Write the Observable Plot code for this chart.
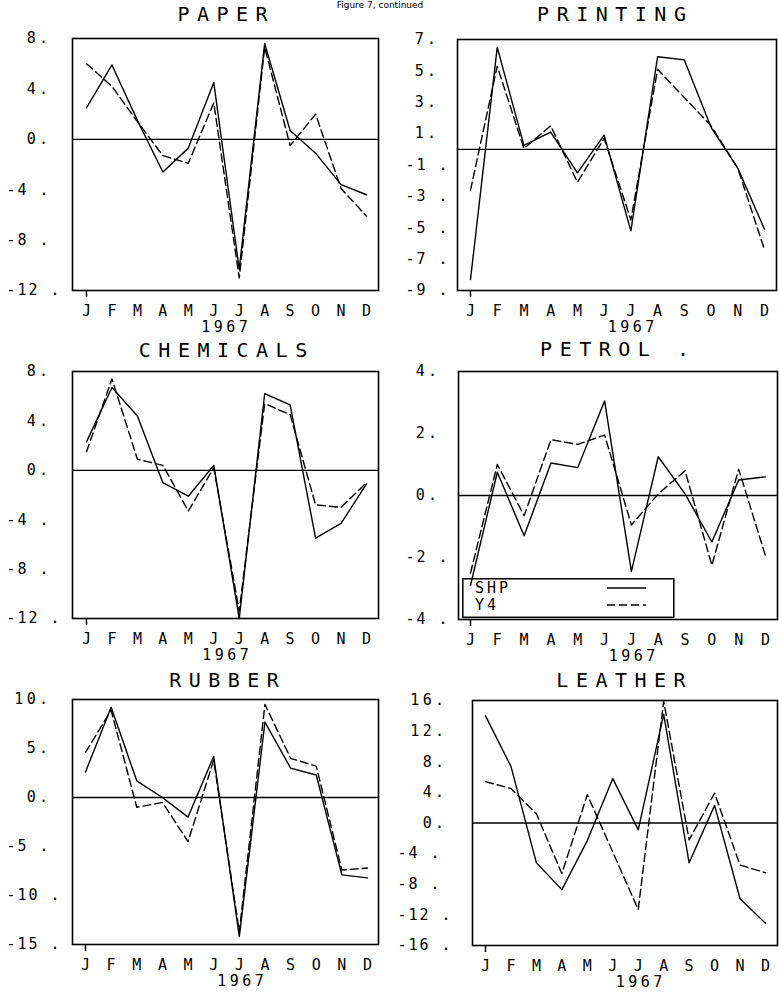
<!DOCTYPE html>
<html><head><meta charset="utf-8">
<script src="https://cdn.jsdelivr.net/npm/d3@7"></script>
<script src="https://cdn.jsdelivr.net/npm/@observablehq/plot@0.6"></script>
<style>
body{margin:0;background:#fff;}
#page{position:relative;width:779px;height:995px;overflow:hidden;background:#fff;font-family:'DejaVu Sans Mono',monospace;}
.panel{position:absolute;}
.panel svg{overflow:visible;}
#header{position:absolute;left:0;width:760px;top:1px;text-align:center;font-size:9px;line-height:9px;font-family:'DejaVu Sans',sans-serif;}
#legend{position:absolute;left:462px;top:578px;}
</style></head><body>
<div id="page"><div id="header">Figure 7, continued</div></div>
<script>
const months = ["J","F","M","A","M","J","J","A","S","O","N","D"];
const year = "1967";
const seriesNames = ["SHP", "Y4"];
const titles = ["PAPER", "PRINTING", "CHEMICALS", "PETROL .", "RUBBER", "LEATHER"];

const paperSHP = [2.5, 5.9, 1.5, -2.6, -0.7, 4.5, -10.3, 7.6, 0.7, -1.1, -3.6, -4.4];
const paperY4  = [6.0, 4.2, 1.4, -1.3, -1.9, 2.9, -11.0, 7.3, -0.5, 2.0, -3.9, -6.1];
const paperTicks = [8, 4, 0, -4, -8, -12];

const printingSHP = [-8.3, 6.5, 0.25, 1.1, -1.5, 0.9, -5.2, 5.9, 5.7, 1.4, -1.2, -5.1];
const printingY4  = [-2.6, 5.3, 0.05, 1.5, -2.1, 0.7, -4.5, 5.1, 3.3, 1.5, -1.2, -6.4];
const printingTicks = [7, 5, 3, 1, -1, -3, -5, -7, -9];

const chemicalsSHP = [2.3, 6.7, 4.4, -1.0, -2.1, 0.4, -12.0, 6.2, 5.3, -5.5, -4.3, -1.1];
const chemicalsY4  = [1.5, 7.4, 0.9, 0.4, -3.3, 0.2, -11.4, 5.4, 4.5, -2.8, -3.0, -1.0];
const chemicalsTicks = [8, 4, 0, -4, -8, -12];

const petrolSHP = [-2.9, 0.75, -1.3, 1.05, 0.9, 3.05, -2.45, 1.25, 0.05, -1.5, 0.5, 0.6];
const petrolY4  = [-2.5, 1.0, -0.65, 1.8, 1.65, 1.95, -0.95, 0.05, 0.8, -2.25, 0.85, -1.95];
const petrolTicks = [4, 2, 0, -2, -4];

const rubberSHP = [2.6, 9.2, 1.7, 0.0, -2.0, 4.2, -14.2, 7.7, 3.0, 2.3, -7.9, -8.2];
const rubberY4  = [4.6, 8.9, -1.0, -0.5, -4.5, 3.8, -13.7, 9.5, 4.0, 3.2, -7.4, -7.2];
const rubberTicks = [10, 5, 0, -5, -10, -15];

const leatherSHP = [14.0, 7.4, -5.2, -8.7, -2.3, 5.8, -0.9, 14.2, -5.2, 2.3, -9.9, -13.1];
const leatherY4  = [5.4, 4.5, 1.2, -6.6, 3.7, -3.8, -11.3, 15.9, -2.2, 3.9, -5.5, -6.5];
const leatherTicks = [16, 12, 8, 4, 0, -4, -8, -12, -16];

// layout (positions in page pixels)
const panels = [
  {title: titles[0], shp: paperSHP, y4: paperY4, ticks: paperTicks, left: 0, width: 389, rowTop: 0,
   mL: 72, mR: 11, frameTop: 38, frameBottom: 290, insetL: 14, insetR: 12, negStart: 6, posEnd: 47.5, titleDy: 23.5, titleDx: 0.75, yearDx: -1},
  {title: titles[1], shp: printingSHP, y4: printingY4, ticks: printingTicks, left: 389, width: 390, rowTop: 0,
   mL: 68, mR: 3, frameTop: 39, frameBottom: 290, insetL: 13, insetR: 12, negStart: 16, posEnd: 46.5, titleDy: 24.5, titleDx: -1.75, yearDx: 14},
  {title: titles[2], shp: chemicalsSHP, y4: chemicalsY4, ticks: chemicalsTicks, left: 0, width: 389, rowTop: 336,
   mL: 72, mR: 11, frameTop: 371, frameBottom: 618, insetL: 14, insetR: 12, negStart: 6, posEnd: 47.5, titleDy: 21, titleDx: 1.25, yearDx: 0},
  {title: titles[3], shp: petrolSHP, y4: petrolY4, ticks: petrolTicks, left: 389, width: 390, rowTop: 336,
   mL: 69, mR: 2, frameTop: 371, frameBottom: 619, insetL: 12, insetR: 12, negStart: 16, posEnd: 47.5, titleDy: 21.5, titleDx: 0.25, yearDx: 14},
  {title: titles[4], shp: rubberSHP, y4: rubberY4, ticks: rubberTicks, left: 0, width: 389, rowTop: 664,
   mL: 72, mR: 11, frameTop: 699, frameBottom: 944, insetL: 13, insetR: 11, negStart: 6, posEnd: 47.5, titleDy: 19, titleDx: 2.25, yearDx: 15},
  {title: titles[5], shp: leatherSHP, y4: leatherY4, ticks: leatherTicks, left: 389, width: 390, rowTop: 664,
   mL: 83, mR: 2, frameTop: 700, frameBottom: 945, insetL: 13, insetR: 12, negStart: 8, posEnd: 54.5, titleDy: 20, titleDx: -0.25, yearDx: 14}
];

const page = document.getElementById("page");
const LS_POS = 3.3, LS_NEG = 2, LS_TITLE = 7.5, LS_YEAR = 3.5;
const FONT = "'DejaVu Sans Mono', monospace";

function makePanel(p) {
  const mT = p.frameTop - p.rowTop;
  const mB = 45;
  const height = p.frameBottom - p.frameTop + mT + mB;
  const shp = p.shp.map((v, i) => ({i, v}));
  const y4 = p.y4.map((v, i) => ({i, v}));
  const neg = p.ticks.filter(t => t < 0);
  const pos = p.ticks.filter(t => t >= 0);
  const chart = Plot.plot({
    width: p.width,
    height,
    marginTop: mT, marginBottom: mB, marginLeft: p.mL, marginRight: p.mR,
    style: {fontFamily: FONT, background: "transparent", overflow: "visible", color: "black"},
    x: {type: "linear", domain: [0, 11], insetLeft: p.insetL, insetRight: p.insetR, label: null},
    y: {domain: [p.ticks[p.ticks.length - 1], p.ticks[0]], label: null},
    marks: [
      Plot.frame({stroke: "black", strokeWidth: 1.6}),
      Plot.ruleY([0], {stroke: "black", strokeWidth: 1.3}),
      Plot.axisY({ticks: pos, tickSize: 0, tickPadding: p.mL - p.posEnd - LS_POS, textAnchor: "end", tickFormat: d => `${d}.`, fontSize: 15, fontWeight: "normal", label: null}),
      Plot.axisY({ticks: neg, tickSize: 0, tickPadding: p.mL - p.negStart, textAnchor: "start", tickFormat: d => `${d} .`, fontSize: 15, fontWeight: "normal", label: null}),
      Plot.axisX({ticks: [0], tickSize: 7, tickFormat: () => "", strokeWidth: 1.5, label: null}),
      Plot.axisX({ticks: d3.range(12), tickSize: 0, tickPadding: 15, tickFormat: i => months[i], fontSize: 15, fontWeight: "normal", label: null}),
      Plot.line(shp, {x: "i", y: "v", stroke: "black", strokeWidth: 1.4}),
      Plot.line(y4, {x: "i", y: "v", stroke: "black", strokeWidth: 1.4, strokeDasharray: "8,4"}),
      Plot.text([p.title], {text: d => d, frameAnchor: "top", dy: -p.titleDy, dx: p.titleDx, fontSize: 20, fontWeight: "normal", lineAnchor: "middle"}),
      Plot.text([year], {text: d => d, frameAnchor: "bottom", dy: 37, dx: p.yearDx + LS_YEAR / 2, fontSize: 15, fontWeight: "normal", lineAnchor: "middle"})
    ]
  });
  // letter spacing to mimic the plotter lettering
  d3.select(chart).selectAll("text").each(function() {
    const s = this.textContent;
    if (s === p.title) this.style.letterSpacing = LS_TITLE + "px";
    else if (s === year) this.style.letterSpacing = LS_YEAR + "px";
    else if (/^-\d+ \.$/.test(s)) this.style.letterSpacing = LS_NEG + "px";
    else if (/^\d+\.$/.test(s)) this.style.letterSpacing = LS_POS + "px";
  });
  const div = document.createElement("div");
  div.className = "panel";
  div.style.left = p.left + "px";
  div.style.top = p.rowTop + "px";
  div.style.width = p.width + "px";
  div.appendChild(chart);
  page.appendChild(div);
}
panels.forEach(makePanel);

// legend for the PETROL panel
const ns = "http://www.w3.org/2000/svg";
const leg = document.createElementNS(ns, "svg");
leg.setAttribute("id", "legend");
leg.setAttribute("width", 214);
leg.setAttribute("height", 41);
leg.style.overflow = "visible";
const rect = document.createElementNS(ns, "rect");
rect.setAttribute("x", 0.8); rect.setAttribute("y", 0.8);
rect.setAttribute("width", 211); rect.setAttribute("height", 38.5);
rect.setAttribute("fill", "none"); rect.setAttribute("stroke", "black"); rect.setAttribute("stroke-width", 1.5);
leg.appendChild(rect);
seriesNames.forEach((name, k) => {
  const t = document.createElementNS(ns, "text");
  t.setAttribute("x", 13);
  t.setAttribute("y", 15 + k * 17);
  t.setAttribute("font-size", 15);
  t.setAttribute("font-family", FONT);
  t.setAttribute("letter-spacing", "3px");
  t.textContent = name;
  leg.appendChild(t);
  const l = document.createElementNS(ns, "line");
  l.setAttribute("x1", 145); l.setAttribute("x2", 184);
  l.setAttribute("y1", 10 + k * 17); l.setAttribute("y2", 10 + k * 17);
  l.setAttribute("stroke", "black"); l.setAttribute("stroke-width", 1.3);
  if (k === 1) l.setAttribute("stroke-dasharray", "8,4");
  leg.appendChild(l);
});
page.appendChild(leg);
</script>
</body></html>
